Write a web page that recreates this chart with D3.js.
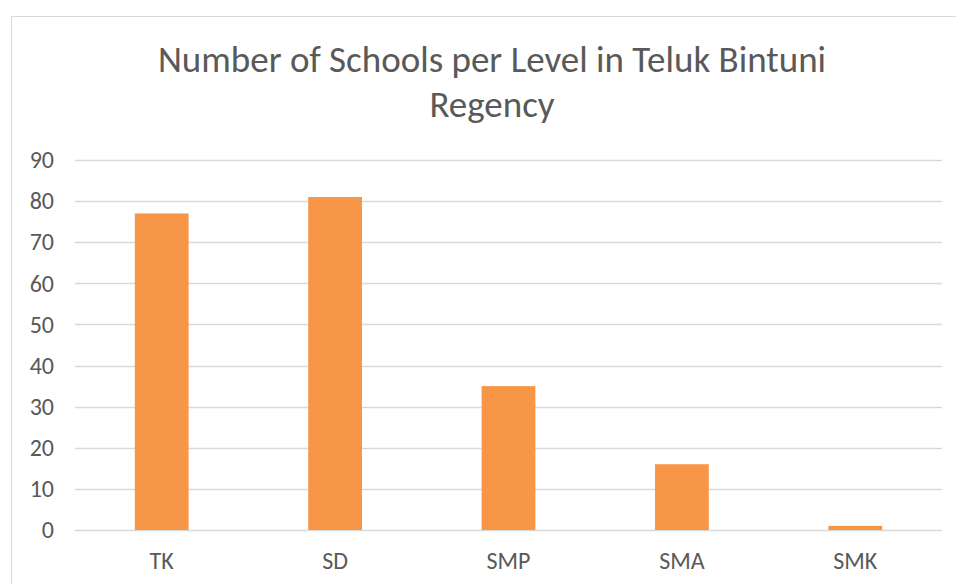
<!DOCTYPE html>
<html>
<head>
<meta charset="utf-8">
<script src="https://cdn.jsdelivr.net/npm/d3@7"></script>
<style>
  body { margin: 0; background: #fff; }
  text { font-family: Carlito, Calibri, "Liberation Sans", Arial, sans-serif; fill: #595959; }
</style>
</head>
<body>
<div id="chart"></div>
<script>
var levels = ["TK", "SD", "SMP", "SMA", "SMK"];
var schools = [77, 81, 35, 16, 1];
var yTicks = [0, 10, 20, 30, 40, 50, 60, 70, 80, 90];
var titleLines = ["Number of Schools per Level in Teluk Bintuni", "Regency"];

var width = 956, height = 584;
var plotLeft = 75, plotRight = 942, plotTop = 160, plotBottom = 530;

var svg = d3.select("#chart").append("svg")
  .attr("width", width).attr("height", height);

// chart frame
svg.append("rect")
  .attr("x", 11.5).attr("y", 16.5)
  .attr("width", 970).attr("height", 600)
  .attr("fill", "#fff").attr("stroke", "#d9d9d9");

var x = d3.scaleBand().domain(levels).range([plotLeft, plotRight]).paddingInner(0.69).paddingOuter(0.345);
var y = d3.scaleLinear().domain([0, 90]).range([plotBottom, plotTop]);

// gridlines
svg.append("g").selectAll("line").data(yTicks).join("line")
  .attr("x1", plotLeft).attr("x2", plotRight)
  .attr("y1", function(d) { return Math.round(y(d)) + 0.5; })
  .attr("y2", function(d) { return Math.round(y(d)) + 0.5; })
  .attr("stroke", "#d9d9d9").attr("stroke-width", 1.3);

// y axis labels
var yAxis = d3.axisLeft(y).tickValues(yTicks).tickSize(0).tickPadding(0);
var gy = svg.append("g").attr("transform", "translate(54,0)").call(yAxis);
gy.select(".domain").remove();
gy.selectAll("text").style("font-size", "24px").style("font-family", null).attr("fill", "#595959");
gy.attr("font-family", null);

// bars
svg.append("g").selectAll("rect").data(schools).join("rect")
  .attr("x", function(d, i) { return x(levels[i]); })
  .attr("width", x.bandwidth())
  .attr("y", function(d) { return y(d); })
  .attr("height", function(d) { return y(0) - y(d); })
  .attr("fill", "#f79646");

// x axis labels
var xFull = d3.scaleBand().domain(levels).range([plotLeft, plotRight]);
var xAxis = d3.axisBottom(xFull).tickSize(0).tickPadding(0);
var gx = svg.append("g").attr("transform", "translate(0,552)").call(xAxis);
gx.select(".domain").remove();
gx.attr("font-family", null);
gx.selectAll("text").style("font-size", "24px").attr("fill", "#595959");

// title
var title = svg.append("text")
  .attr("text-anchor", "middle")
  .style("font-size", "37px");
title.selectAll("tspan").data(titleLines).join("tspan")
  .attr("x", 492)
  .attr("y", function(d, i) { return 72 + i * 45; })
  .text(function(d) { return d; });
</script>
</body>
</html>
